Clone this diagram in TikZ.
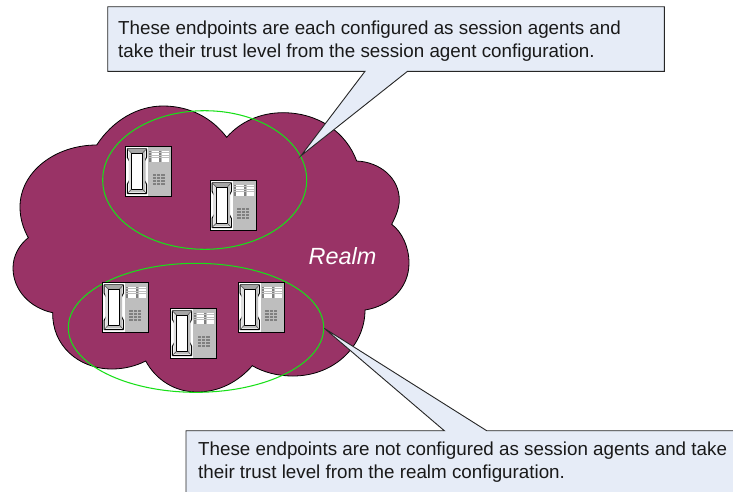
\documentclass[tikz,border=0pt]{standalone}
\usepackage{fontspec}
\setmainfont{Liberation Sans}
\definecolor{plum}{HTML}{993366}
\definecolor{callfill}{HTML}{E6ECF7}
\definecolor{ringgreen}{HTML}{18E018}
\definecolor{phonegray}{HTML}{BEBEBE}
\definecolor{keydark}{HTML}{808080}
\tikzset{
  cloudshape/.style={fill=plum,draw=black,line width=0.8pt},
  ring/.style={draw=ringgreen,line width=1.05pt},
  callout/.style={fill=callfill,draw=black!85,line width=0.9pt,line join=miter},
  calltext/.style={inner sep=0pt,anchor=north west,align=left,text=black!90,font=\fontsize{18.8}{23}\selectfont},
  phonepic/.pic={
    \fill[white] (0,0) rectangle (46,50);
    \fill[phonegray] (22.5,0) rectangle (46,50);
    % handset
    \draw[black,line width=1pt,fill=white,line join=round]
      (1.8,2.6) -- (21,2.6) -- (21,11) -- (19,15) -- (19,34) -- (21,38) -- (21,47.2)
      -- (1.8,47.2) -- (1.8,38) -- (4,34) -- (4,15) -- (1.8,11) -- cycle;
    \fill[black!12] (3,3.8) -- (6,6.8) -- (6,42.8) -- (3,46) -- cycle;
    \fill[black!25] (19.8,3.8) -- (17,6.8) -- (17,42.8) -- (19.8,46) -- cycle;
    \fill[black!35] (3,3.8) -- (19.8,3.8) -- (17,6.8) -- (6,6.8) -- cycle;
    \fill[black!25] (3,46) -- (19.8,46) -- (17,42.8) -- (6,42.8) -- cycle;
    \draw[black,line width=1pt,fill=white] (6,6.8) rectangle (17,42.8);
    \draw[black!70,line width=0.5pt] (1.8,2.6) -- (6,6.8) (21,2.6) -- (17,6.8) (1.8,47.2) -- (6,42.8) (21,47.2) -- (17,42.8);
    % upper button columns
    \foreach \r in {0,1,2,3,4} {
      \fill[keydark] (23.6,4.4+2.4*\r) rectangle (25.6,6.1+2.4*\r);
      \fill[white] (26,4.4+2.4*\r) rectangle (33.3,6.1+2.4*\r);
      \fill[keydark] (33.8,4.4+2.4*\r) rectangle (35.8,6.1+2.4*\r);
      \fill[white] (36.2,4.4+2.4*\r) rectangle (43.4,6.1+2.4*\r);
    }
    % keypad
    \foreach \c in {0,1,2} \foreach \r in {0,1,2,3} {
      \fill[keydark] (27+4.3*\c,27.8+3*\r) rectangle (30.4+4.3*\c,30+3*\r);
    }
    \draw[black,line width=1pt] (0,0) rectangle (46,50);
  }
}
\begin{document}
\begin{tikzpicture}[x=1pt,y=-1pt]
\useasboundingbox (0,0) rectangle (733,491);
\begin{scope}
\clip (0,0) rectangle (733,491);
\fill[white] (0,0) rectangle (733,491);
% cloud
\draw[cloudshape] (96.7,145)
  .. controls (113,120) and (138,106) .. (163,106)
  .. controls (190,106) and (212,118) .. (226.7,137.3)
  .. controls (240,122) and (260,112.7) .. (283,112.7)
  .. controls (318,112.7) and (346,132) .. (356.7,161)
  .. controls (380,162) and (399.3,178) .. (399.3,200)
  .. controls (399.3,208) and (396,216) .. (391.7,224.3)
  .. controls (402,232) and (409,247) .. (409,263)
  .. controls (409,288) and (390,306) .. (365,310)
  .. controls (365,345) and (335,376) .. (293,376)
  .. controls (277,376) and (263,372) .. (252.3,365.7)
  .. controls (238,382) and (219,392) .. (197,392)
  .. controls (175,392) and (156,380) .. (145.7,361)
  .. controls (136,366) and (124,369) .. (112,369)
  .. controls (78,369) and (52,345) .. (52.7,312.7)
  .. controls (30,308) and (13,290) .. (13,268)
  .. controls (13,256) and (19,245) .. (28.3,237.7)
  .. controls (23,228) and (20,218) .. (20,207)
  .. controls (20,172) and (55,145) .. (96.7,145) -- cycle;
% rings
\draw[ring] (204.7,180) ellipse [x radius=102,y radius=69.3];
\draw[ring] (196,327.8) ellipse [x radius=127.7,y radius=64.5];
% callouts
\draw[callout] (107.7,6.7) -- (664.3,6.7) -- (664.3,71.3) -- (407.5,71.3) -- (301,155.7) -- (365,71.3) -- (107.7,71.3) -- cycle;
\draw[callout] (186,500) -- (186,430.7) -- (444.3,430.7) -- (324.3,328.3) -- (486.7,430.7) -- (745,430.7) -- (745,500) -- cycle;
\end{scope}
% phones
\pic at (125.5,146.3) {phonepic};
\pic at (210.3,180.3) {phonepic};
\pic at (102.4,282.3) {phonepic};
\pic at (170.6,308.3) {phonepic};
\pic at (238.4,282.3) {phonepic};
% text
\node[calltext] (top) at (118,20.4) {These endpoints are each configured as session agents and\\take their trust level from the session agent configuration.};
\node[calltext] (bottom) at (198,441.2) {These endpoints are not configured as session agents and take\\their trust level from the realm configuration.};
\node[inner sep=0pt,anchor=base west,text=white,font=\fontsize{23.4}{26}\selectfont\itshape] (realm) at (308.5,264) {Realm};
\end{tikzpicture}
\end{document}
